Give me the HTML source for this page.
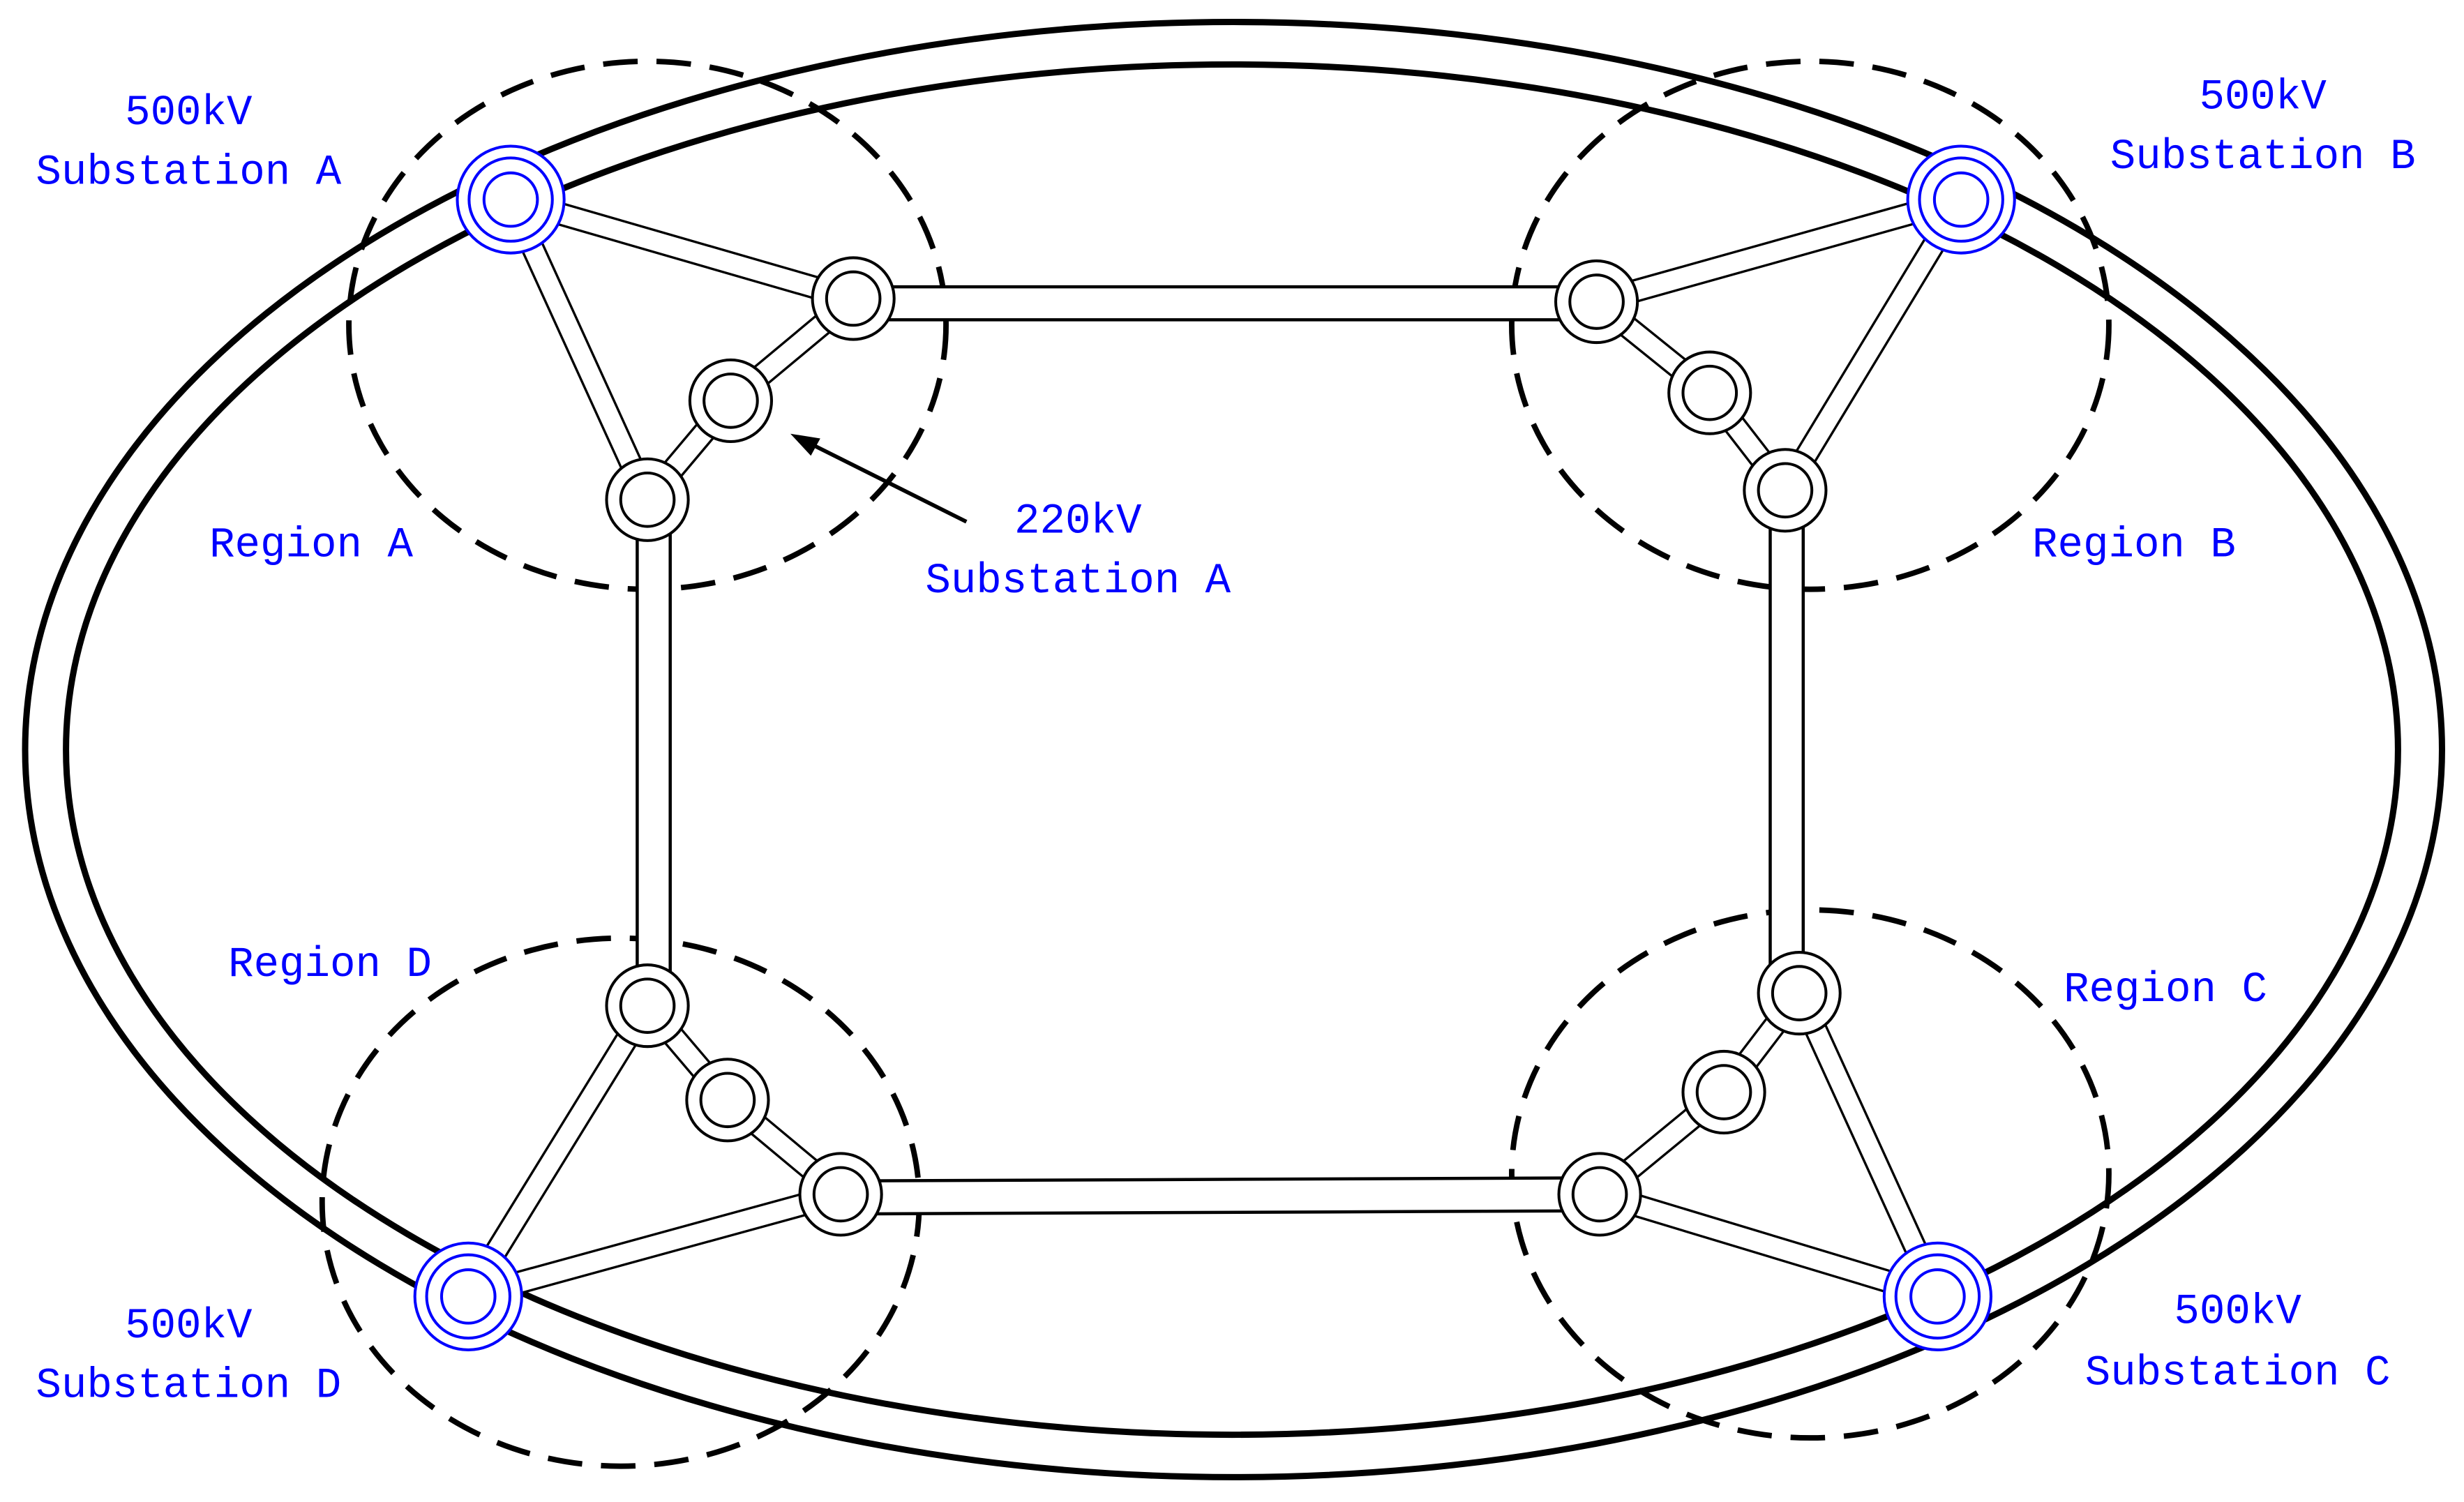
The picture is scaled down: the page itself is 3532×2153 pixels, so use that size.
<!DOCTYPE html>
<html><head><meta charset="utf-8"><style>html,body{margin:0;padding:0;background:#fff}svg{display:block}</style></head>
<body>
<svg width="3532" height="2153" viewBox="0 0 1568 955.8" xmlns="http://www.w3.org/2000/svg">
<rect width="1568" height="956" fill="#fff"/>
<ellipse cx="785" cy="477" rx="769" ry="463" fill="none" stroke="#000" stroke-width="4"/>
<ellipse cx="784" cy="477" rx="742" ry="436" fill="none" stroke="#000" stroke-width="4"/>
<g fill="none" stroke="#000" stroke-width="3.5" stroke-dasharray="22,12">
<ellipse cx="412" cy="207" rx="190" ry="168"/>
<ellipse cx="1152" cy="207" rx="190" ry="168"/>
<ellipse cx="395" cy="765" rx="190" ry="168"/>
<ellipse cx="1152" cy="747" rx="190" ry="168"/>
</g>
<g fill="none" stroke-linecap="butt">
<g stroke="#000" stroke-width="23">
<path d="M543 193 L1016 193"/><path d="M535 762 L1018 760"/>
<path d="M416 318 L416 640"/><path d="M1137 312 L1137 632"/>
</g>
<g stroke="#fff" stroke-width="19">
<path d="M543 193 L1016 193"/><path d="M535 762 L1018 760"/>
<path d="M416 318 L416 640"/><path d="M1137 312 L1137 632"/>
</g>
<g stroke="#000" stroke-width="15">
<path d="M325 127 L543 190 M325 127 L412 318 M543 190 L465 255 L412 318"/>
<path d="M1248 127 L1016 192 M1248 127 L1136 312 M1016 192 L1088 250 L1136 312"/>
<path d="M298 825 L412 640 M298 825 L535 760 M412 640 L463 700 L535 760"/>
<path d="M1233 825 L1145 632 M1233 825 L1018 760 M1145 632 L1097 695 L1018 760"/>
</g>
<g stroke="#fff" stroke-width="12">
<path d="M325 127 L543 190 M325 127 L412 318 M543 190 L465 255 L412 318"/>
<path d="M1248 127 L1016 192 M1248 127 L1136 312 M1016 192 L1088 250 L1136 312"/>
<path d="M298 825 L412 640 M298 825 L535 760 M412 640 L463 700 L535 760"/>
<path d="M1233 825 L1145 632 M1233 825 L1018 760 M1145 632 L1097 695 L1018 760"/>
</g>
</g>
<g fill="#fff" stroke="#000" stroke-width="1.8">
<circle cx="543" cy="190" r="26"/><circle cx="543" cy="190" r="17"/>
<circle cx="465" cy="255" r="26"/><circle cx="465" cy="255" r="17"/>
<circle cx="412" cy="318" r="26"/><circle cx="412" cy="318" r="17"/>
<circle cx="1016" cy="192" r="26"/><circle cx="1016" cy="192" r="17"/>
<circle cx="1088" cy="250" r="26"/><circle cx="1088" cy="250" r="17"/>
<circle cx="1136" cy="312" r="26"/><circle cx="1136" cy="312" r="17"/>
<circle cx="412" cy="640" r="26"/><circle cx="412" cy="640" r="17"/>
<circle cx="463" cy="700" r="26"/><circle cx="463" cy="700" r="17"/>
<circle cx="535" cy="760" r="26"/><circle cx="535" cy="760" r="17"/>
<circle cx="1145" cy="632" r="26"/><circle cx="1145" cy="632" r="17"/>
<circle cx="1097" cy="695" r="26"/><circle cx="1097" cy="695" r="17"/>
<circle cx="1018" cy="760" r="26"/><circle cx="1018" cy="760" r="17"/>
</g>
<g fill="#fff" stroke="#0000ff" stroke-width="1.8">
<circle cx="325" cy="127" r="34"/><circle cx="325" cy="127" r="26.5"/><circle cx="325" cy="127" r="17"/>
<circle cx="1248" cy="127" r="34"/><circle cx="1248" cy="127" r="26.5"/><circle cx="1248" cy="127" r="17"/>
<circle cx="1233" cy="825" r="34"/><circle cx="1233" cy="825" r="26.5"/><circle cx="1233" cy="825" r="17"/>
<circle cx="298" cy="825" r="34"/><circle cx="298" cy="825" r="26.5"/><circle cx="298" cy="825" r="17"/>
</g>
<line x1="615" y1="332" x2="515" y2="282" stroke="#000" stroke-width="2.5"/>
<polygon points="503,276 522,279 516,290" fill="#000"/>
<g fill="#0000ff" font-family="'Liberation Mono', monospace" font-size="27" text-anchor="middle">
<text x="120" y="79">500kV</text><text x="120" y="117">Substation A</text>
<text x="1440" y="69">500kV</text><text x="1440" y="107">Substation B</text>
<text x="1424" y="842">500kV</text><text x="1424" y="881">Substation C</text>
<text x="120" y="851">500kV</text><text x="120" y="889">Substation D</text>
<text x="686" y="339">220kV</text><text x="686" y="377">Substation A</text>
<text x="198" y="354">Region A</text>
<text x="1358" y="354">Region B</text>
<text x="1378" y="637">Region C</text>
<text x="210" y="621">Region D</text>
</g>
</svg>
</body></html>
